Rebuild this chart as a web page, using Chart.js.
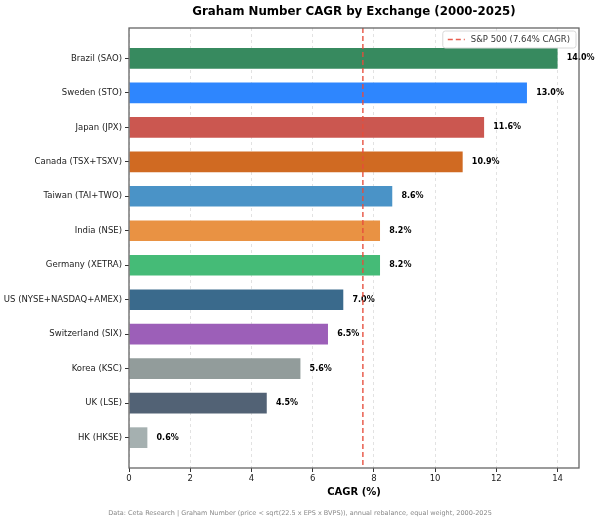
<!DOCTYPE html>
<html>
<head>
<meta charset="utf-8">
<script src="https://cdn.jsdelivr.net/npm/chart.js@4.4.1/dist/chart.umd.min.js"></script>
<style>
  html, body { margin: 0; padding: 0; background: #fff; }
  #wrap { width: 600px; height: 523px; }
</style>
</head>
<body>
<div id="wrap"><canvas id="cagrChart"></canvas></div>
<script>
// values
const exchanges = ['Brazil (SAO)', 'Sweden (STO)', 'Japan (JPX)', 'Canada (TSX+TSXV)',
    'Taiwan (TAI+TWO)', 'India (NSE)', 'Germany (XETRA)', 'US (NYSE+NASDAQ+AMEX)',
    'Switzerland (SIX)', 'Korea (KSC)', 'UK (LSE)', 'HK (HKSE)'];
const cagr = [14.0, 13.0, 11.6, 10.9, 8.6, 8.2, 8.2, 7.0, 6.5, 5.6, 4.5, 0.6];
const barColors = ['#378a5f', '#2e86fe', '#cb5750', '#d06a22', '#4a93c7', '#e99243',
    '#45bb77', '#3a6a8c', '#9c5fb8', '#929c9b', '#526275', '#a5b0b0'];
const xTicks = [0, 2, 4, 6, 8, 10, 12, 14];
const sp500Cagr = 7.64;
const sp500Label = 'S&P 500 (7.64% CAGR)';

const FONT = "'DejaVu Sans', sans-serif";

const extras = {
    id: 'extras',
    afterDatasetsDraw(chart) {
        const ctx = chart.ctx;
        const area = chart.chartArea;
        const xs = chart.scales.x;
        const ys = chart.scales.y;

        // value labels
        ctx.save();
        ctx.fillStyle = '#000';
        ctx.font = 'bold 8px ' + FONT;
        ctx.textAlign = 'left';
        ctx.textBaseline = 'middle';
        cagr.forEach((v, i) => {
            ctx.fillText(v.toFixed(1) + '%', xs.getPixelForValue(v + 0.3), ys.getPixelForValue(i));
        });
        ctx.restore();

        // S&P 500 reference line
        const sx = xs.getPixelForValue(sp500Cagr);
        ctx.save();
        ctx.strokeStyle = 'rgba(231,76,60,0.9)';
        ctx.lineWidth = 1.5;
        ctx.setLineDash([5, 3]);
        ctx.beginPath();
        ctx.moveTo(sx, area.top);
        ctx.lineTo(sx, area.bottom);
        ctx.stroke();
        ctx.restore();

        // frame
        ctx.save();
        ctx.strokeStyle = '#666';
        ctx.lineWidth = 1.3;
        ctx.strokeRect(area.left, area.top, area.right - area.left, area.bottom - area.top);
        ctx.restore();

        // legend
        ctx.save();
        ctx.font = '8.5px ' + FONT;
        const tw = ctx.measureText(sp500Label).width;
        const bw = tw + 34, bh = 17;
        const bx = area.right - bw - 3, by = area.top + 3;
        ctx.fillStyle = 'rgba(255,255,255,0.85)';
        ctx.strokeStyle = '#d8d8d8';
        ctx.lineWidth = 1;
        ctx.beginPath();
        ctx.roundRect(bx, by, bw, bh, 2.5);
        ctx.fill();
        ctx.stroke();
        ctx.strokeStyle = 'rgba(231,76,60,0.9)';
        ctx.lineWidth = 1.5;
        ctx.setLineDash([5, 3]);
        ctx.beginPath();
        ctx.moveTo(bx + 5, by + bh / 2);
        ctx.lineTo(bx + 22, by + bh / 2);
        ctx.stroke();
        ctx.fillStyle = '#333';
        ctx.textAlign = 'left';
        ctx.textBaseline = 'middle';
        ctx.fillText(sp500Label, bx + 28, by + bh / 2 + 0.5);
        ctx.restore();
    },
    afterDraw(chart) {
        const ctx = chart.ctx;
        const area = chart.chartArea;
        ctx.save();
        ctx.fillStyle = '#000';
        ctx.textAlign = 'center';
        ctx.textBaseline = 'middle';
        ctx.font = 'bold 11.8px ' + FONT;
        ctx.fillText('Graham Number CAGR by Exchange (2000-2025)', (area.left + area.right) / 2, 12);
        ctx.fillStyle = '#888';
        ctx.font = '6.5px ' + FONT;
        ctx.fillText('Data: Ceta Research | Graham Number (price < sqrt(22.5 x EPS x BVPS)), annual rebalance, equal weight, 2000-2025',
            300, 513);
        ctx.restore();
    }
};

const chartData = {
    datasets: [{
        data: cagr.map((v, i) => ({ x: v, y: i })),
        backgroundColor: barColors,
        borderWidth: 0,
        barPercentage: 0.6,
        categoryPercentage: 1.0,
    }]
};

const chartConfig = {
    type: 'bar',
    data: chartData,
    options: {
        indexAxis: 'y',
        responsive: true,
        maintainAspectRatio: false,
        animation: false,
        layout: {
            padding: { top: 28, right: 21, bottom: 25, left: 0 }
        },
        plugins: {
            legend: { display: false },
            tooltip: { enabled: false },
        },
        scales: {
            x: {
                type: 'linear',
                min: 0,
                max: 14.7,
                afterBuildTicks: scale => { scale.ticks = xTicks.map(v => ({ value: v })); },
                afterFit: scale => { scale.height = 30; },
                border: { display: false, dash: [3, 3] },
                grid: {
                    color: '#e2e2e2',
                    tickColor: '#333',
                    tickLength: 4,
                    tickBorderDash: [],
                },
                ticks: {
                    color: '#222',
                    padding: 2,
                    font: { family: FONT, size: 8.5 },
                },
                title: {
                    display: true,
                    text: 'CAGR (%)',
                    color: '#000',
                    padding: { top: 0, bottom: 0 },
                    font: { family: FONT, size: 10, weight: 'bold' },
                }
            },
            y: {
                type: 'linear',
                reverse: true,
                offset: false,
                min: -0.88,
                max: 11.88,
                afterBuildTicks: scale => { scale.ticks = exchanges.map((_, i) => ({ value: i })); },
                afterFit: scale => { scale.width = 129; },
                border: { display: false },
                grid: {
                    offset: false,
                    drawOnChartArea: false,
                    tickColor: '#333',
                    tickLength: 4,
                },
                ticks: {
                    color: '#222',
                    padding: 3,
                    font: { family: FONT, size: 8.5 },
                    callback: value => exchanges[value],
                }
            }
        }
    },
    plugins: [extras]
};

const cagrChart = new Chart(document.getElementById('cagrChart'), chartConfig);
</script>
</body>
</html>
